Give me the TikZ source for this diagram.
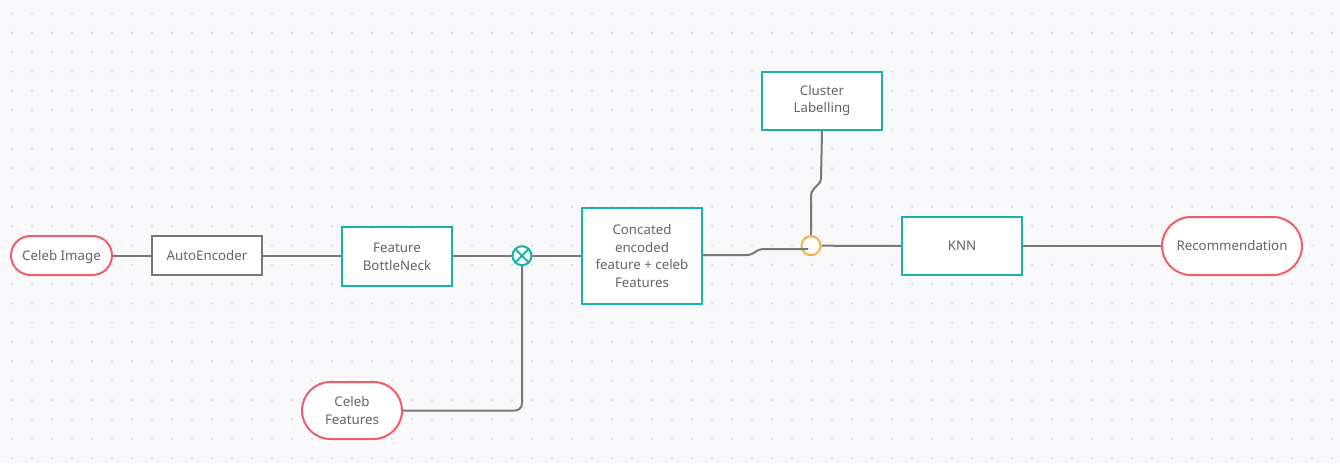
\documentclass[tikz,border=0pt]{standalone}
\usepackage{fontspec}
\setmainfont{Noto Sans}
\usetikzlibrary{shapes.misc,calc}
\definecolor{teal1}{HTML}{17B3AB}
\definecolor{red1}{HTML}{F45B69}
\definecolor{orange1}{HTML}{F8B04A}
\definecolor{line1}{HTML}{787878}
\definecolor{txt}{HTML}{646464}
\definecolor{bg}{HTML}{F9F9FB}
\definecolor{dot}{HTML}{DCDCE0}
\tikzset{
  every node/.style={font=\fontsize{13.3}{17.7}\selectfont, text=txt, align=center},
  tealbox/.style={draw=teal1, line width=2pt, fill=white, inner sep=0pt},
  graybox/.style={draw=line1, line width=2pt, fill=white, inner sep=0pt},
  pill/.style={draw=red1, line width=2pt, fill=white, rounded rectangle, inner sep=0pt},
  conn/.style={draw=line1, line width=2pt},
  oneline/.style={text height=9.5, text depth=0},
}
\begin{document}
\begin{tikzpicture}[x=1pt,y=-1pt]
\fill[bg] (0,0) rectangle (1340,463);
\useasboundingbox (0,0) rectangle (1340,463);
\foreach \i in {0,...,66} {
  \foreach \j in {0,...,23} {
    \fill[dot] (12+20*\i, 13.5+19.33*\j) circle (1.2);
  }
}
% nodes
\node[pill, oneline, minimum width=101, minimum height=39] (img) at (61.5,255.5) {Celeb Image};
\node[graybox, oneline, minimum width=110, minimum height=39] (ae) at (207,255.5) {AutoEncoder};
\node[tealbox, minimum width=110, minimum height=59] (fb) at (397,256.5) {Feature\\BottleNeck};
\node[tealbox, minimum width=120, minimum height=96] (cc) at (642,256) {Concated\\encoded\\feature + celeb\\Features};
\node[tealbox, minimum width=120, minimum height=58] (cl) at (822,100.5) {Cluster\\Labelling};
\node[tealbox, oneline, minimum width=120, minimum height=58] (knn) at (962,246) {KNN};
\node[pill, oneline, minimum width=140, minimum height=58] (rec) at (1232,246) {Recommendation};
\node[pill, minimum width=100, minimum height=57] (cf) at (352,410.5) {Celeb\\Features};
\coordinate (xo) at (522,255.7);
\coordinate (oc) at (811,245.7);
% junction circles
\node[circle, draw=orange1, line width=2pt, fill=white, minimum size=19, inner sep=0pt] (on) at (oc) {};
% connectors
\draw[conn] (img.east) -- (ae.west);
\draw[conn] (ae.east) -- (fb.west |- ae.east);
\draw[conn] (fb.east |- xo) -- (cc.west |- xo);
\draw[conn] (cf.east) -- (515,410.5) arc[start angle=90, end angle=0, radius=7] -- (xo);
\coordinate (oin) at (808,249);
\draw[conn] (cc.east |- 0,255) -- (746,255) .. controls (756,255) and (754,249) .. (765,249) -- (oin);
\draw[conn] (cl.south) -- (821,178) .. controls (821,186) and (811,187) .. (811,196) -- (on.north);
\draw[conn] (on.east) -- (knn.west);
\draw[conn] (knn.east) -- (rec.west);
\node[circle, draw=teal1, line width=2pt, fill=white, minimum size=19, inner sep=0pt] (xn) at (xo) {};
\draw[teal1, line width=2pt] ($(xo)+(-6.5,-6.5)$) -- ($(xo)+(6.5,6.5)$);
\draw[teal1, line width=2pt] ($(xo)+(-6.5,6.5)$) -- ($(xo)+(6.5,-6.5)$);
\end{tikzpicture}
\end{document}
